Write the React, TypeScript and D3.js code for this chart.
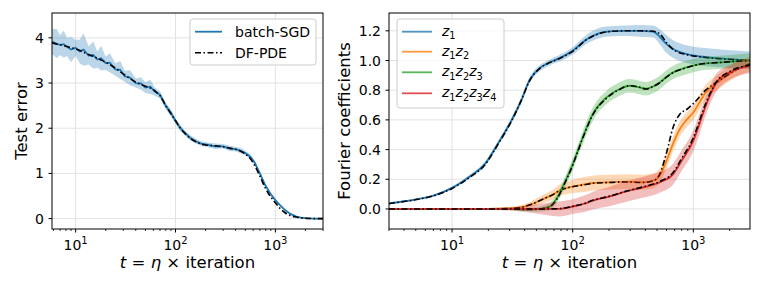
import { useEffect, useRef } from 'react';
import * as d3 from 'd3';

// ---- left panel: test error ----
const errT = [5.8, 6.5, 7, 7.6, 8.2, 9, 10, 11, 12, 13.5, 15, 16.5, 18, 20, 22, 25, 28, 31, 35, 40, 45, 50, 56, 62, 70, 80, 90, 100, 112, 125, 140, 160, 180, 200, 250, 300, 350, 400, 450, 500, 560, 620, 700, 800, 900, 1000, 1100, 1250, 1400, 1600, 1800, 2000, 2400, 3000];
const errSgd = [3.92, 3.87, 3.84, 3.86, 3.80, 3.74, 3.78, 3.70, 3.74, 3.61, 3.62, 3.52, 3.55, 3.44, 3.45, 3.30, 3.29, 3.15, 3.12, 3.00, 2.99, 2.90, 2.92, 2.81, 2.74, 2.49, 2.34, 2.16, 2.00, 1.89, 1.79, 1.71, 1.66, 1.64, 1.60, 1.60, 1.55, 1.54, 1.50, 1.45, 1.37, 1.24, 1.00, 0.72, 0.54, 0.41, 0.31, 0.19, 0.11, 0.05, 0.02, 0.01, 0.0, 0.0];
const errPde = [3.89, 3.86, 3.85, 3.83, 3.81, 3.78, 3.76, 3.72, 3.68, 3.63, 3.59, 3.55, 3.51, 3.46, 3.41, 3.33, 3.25, 3.18, 3.10, 3.02, 2.97, 2.93, 2.89, 2.83, 2.72, 2.50, 2.32, 2.17, 2.00, 1.88, 1.78, 1.70, 1.65, 1.63, 1.61, 1.59, 1.56, 1.53, 1.49, 1.43, 1.33, 1.18, 0.94, 0.66, 0.48, 0.35, 0.24, 0.13, 0.07, 0.035, 0.015, 0.008, 0.0, 0.0];
const errBand = [0.28, 0.32, 0.22, 0.30, 0.20, 0.28, 0.18, 0.26, 0.36, 0.20, 0.30, 0.18, 0.27, 0.15, 0.21, 0.14, 0.20, 0.12, 0.17, 0.10, 0.14, 0.12, 0.16, 0.09, 0.08, 0.07, 0.08, 0.06, 0.07, 0.05, 0.06, 0.05, 0.05, 0.05, 0.06, 0.05, 0.06, 0.05, 0.06, 0.05, 0.05, 0.04, 0.04, 0.03, 0.03, 0.025, 0.02, 0.015, 0.01, 0.01, 0.005, 0.005, 0.0, 0.0];

// ---- right panel: Fourier coefficients ----
const z1T = [3, 4, 5.2, 7, 10, 12, 14.4, 18.6, 24, 31, 37.4, 44, 53.6, 62, 69, 77, 100, 129, 167, 215, 278, 360, 464, 527, 600, 680, 880, 1137, 1670, 3000];
const z1Sgd = [0.038, 0.052, 0.067, 0.09, 0.142, 0.18, 0.225, 0.30, 0.44, 0.595, 0.73, 0.87, 0.95, 0.98, 0.998, 1.014, 1.065, 1.14, 1.185, 1.198, 1.2, 1.2, 1.195, 1.16, 1.11, 1.077, 1.043, 1.027, 1.014, 1.0];
const z1Pde = [0.036, 0.05, 0.065, 0.088, 0.138, 0.176, 0.22, 0.295, 0.435, 0.59, 0.73, 0.865, 0.948, 0.98, 0.995, 1.012, 1.062, 1.138, 1.182, 1.197, 1.2, 1.2, 1.197, 1.18, 1.12, 1.075, 1.04, 1.025, 1.012, 1.0];
const z1Band = [0.004, 0.005, 0.005, 0.006, 0.008, 0.01, 0.012, 0.015, 0.018, 0.02, 0.02, 0.02, 0.02, 0.02, 0.02, 0.022, 0.025, 0.03, 0.035, 0.035, 0.035, 0.04, 0.04, 0.05, 0.06, 0.06, 0.06, 0.06, 0.06, 0.06];

const z12T = [3, 10, 20, 30, 37, 45, 53, 60, 68, 78, 100, 125, 147, 200, 278, 380, 464, 527, 600, 680, 775, 880, 1000, 1267, 1670, 2300, 3000];
const z12Sgd = [0, 0, 0, 0.003, 0.01, 0.03, 0.055, 0.075, 0.095, 0.125, 0.152, 0.165, 0.175, 0.18, 0.184, 0.18, 0.19, 0.224, 0.325, 0.44, 0.54, 0.60, 0.65, 0.785, 0.865, 0.94, 0.98];
const z12Pde = [0, 0, 0, 0.003, 0.01, 0.03, 0.055, 0.075, 0.095, 0.125, 0.15, 0.163, 0.173, 0.178, 0.182, 0.178, 0.19, 0.235, 0.38, 0.55, 0.64, 0.67, 0.71, 0.80, 0.87, 0.94, 0.98];
const z12Band = [0, 0.002, 0.005, 0.01, 0.015, 0.02, 0.025, 0.03, 0.035, 0.04, 0.045, 0.05, 0.05, 0.05, 0.05, 0.05, 0.05, 0.05, 0.05, 0.05, 0.05, 0.05, 0.05, 0.05, 0.05, 0.05, 0.05];

const z123T = [3, 10, 30, 40, 50, 58, 66, 75, 85, 100, 110, 125, 147, 190, 245, 296, 350, 407, 450, 527, 600, 680, 880, 1137, 1670, 3000];
const z123Sgd = [0, 0, 0, -0.004, -0.003, 0.005, 0.022, 0.08, 0.17, 0.30, 0.39, 0.51, 0.64, 0.75, 0.808, 0.83, 0.82, 0.81, 0.82, 0.852, 0.89, 0.92, 0.953, 0.976, 0.987, 1.0];
const z123Pde = [0, 0, 0, -0.003, -0.002, 0.004, 0.02, 0.075, 0.165, 0.295, 0.385, 0.505, 0.635, 0.745, 0.805, 0.83, 0.822, 0.808, 0.82, 0.85, 0.888, 0.918, 0.952, 0.975, 0.987, 1.0];
const z123Band = [0, 0.002, 0.008, 0.012, 0.015, 0.02, 0.025, 0.03, 0.035, 0.04, 0.04, 0.045, 0.045, 0.045, 0.045, 0.045, 0.045, 0.045, 0.045, 0.045, 0.045, 0.045, 0.045, 0.045, 0.045, 0.05];

const z1234T = [3, 10, 30, 50, 60, 78, 90, 100, 125, 147, 200, 278, 380, 527, 680, 800, 1000, 1100, 1210, 1400, 1550, 2000, 3000];
const z1234Sgd = [0, 0, 0, 0, 0, 0, 0.008, 0.016, 0.035, 0.056, 0.083, 0.118, 0.145, 0.18, 0.235, 0.325, 0.46, 0.55, 0.65, 0.78, 0.85, 0.92, 0.965];
const z1234Pde = [0, 0, 0, 0, 0, 0.002, 0.01, 0.018, 0.037, 0.058, 0.085, 0.12, 0.148, 0.185, 0.245, 0.34, 0.48, 0.57, 0.67, 0.79, 0.855, 0.925, 0.97];
const z1234Band = [0, 0.002, 0.01, 0.03, 0.04, 0.05, 0.05, 0.05, 0.055, 0.06, 0.065, 0.07, 0.07, 0.07, 0.07, 0.07, 0.07, 0.07, 0.065, 0.06, 0.06, 0.05, 0.05];

const errTicks = [0, 1, 2, 3, 4];
const coefTicks = [0, 0.2, 0.4, 0.6, 0.8, 1.0, 1.2];
const decadeTicks = [1, 2, 3];

const coefSeries = [
  { sub: ['1'], color: '#1f77b4', t: z1T, sgd: z1Sgd, pde: z1Pde, band: z1Band },
  { sub: ['1', '2'], color: '#ff7f0e', t: z12T, sgd: z12Sgd, pde: z12Pde, band: z12Band },
  { sub: ['1', '2', '3'], color: '#2ca02c', t: z123T, sgd: z123Sgd, pde: z123Pde, band: z123Band },
  { sub: ['1', '2', '3', '4'], color: '#d62728', t: z1234T, sgd: z1234Sgd, pde: z1234Pde, band: z1234Band },
];

const FONT = "'DejaVu Sans', sans-serif";
const DASH = '6,2.5,1.5,2.5';

type Box = { x0: number; x1: number; y0: number; y1: number };

const App = () => {
  const ref = useRef<SVGSVGElement | null>(null);

  useEffect(() => {
    if (!ref.current) return;
    const svg = d3.select(ref.current);
    svg.selectAll('*').remove();

    const left: Box = { x0: 52, x1: 323, y0: 13, y1: 229 };
    const right: Box = { x0: 389, x1: 750, y0: 13, y1: 229 };

    const xL = d3.scaleLog().domain([5.8, 3000]).range([left.x0, left.x1]);
    const yL = d3.scaleLinear().domain([-0.23, 4.55]).range([left.y1, left.y0]);
    const xR = d3.scaleLog().domain([3, 2950]).range([right.x0, right.x1]);
    const yR = d3.scaleLinear().domain([-0.135, 1.32]).range([right.y1, right.y0]);

    const defs = svg.append('defs');
    [['clipL', left], ['clipR', right]].forEach(([id, b]: any) => {
      defs.append('clipPath').attr('id', id)
        .append('rect')
        .attr('x', b.x0).attr('y', b.y0)
        .attr('width', b.x1 - b.x0).attr('height', b.y1 - b.y0);
    });

    // grid lines under the data
    const drawGrid = (b: Box, x: d3.ScaleLogarithmic<number, number>, y: d3.ScaleLinear<number, number>, yTicks: number[]) => {
      const g = svg.append('g');
      decadeTicks.forEach(e => {
        const px = x(10 ** e);
        g.append('line').attr('x1', px).attr('x2', px).attr('y1', b.y0).attr('y2', b.y1)
          .attr('stroke', '#e2e2e2').attr('stroke-width', 1);
      });
      yTicks.forEach(v => {
        g.append('line').attr('x1', b.x0).attr('x2', b.x1).attr('y1', y(v)).attr('y2', y(v))
          .attr('stroke', '#e2e2e2').attr('stroke-width', 1);
      });
    };

    const drawAxes = (b: Box, x: d3.ScaleLogarithmic<number, number>, y: d3.ScaleLinear<number, number>,
      yTicks: number[], fmt: (v: number) => string) => {
      const g = svg.append('g').attr('font-family', FONT);
      g.append('rect').attr('x', b.x0).attr('y', b.y0)
        .attr('width', b.x1 - b.x0).attr('height', b.y1 - b.y0)
        .attr('fill', 'none').attr('stroke', '#000').attr('stroke-width', 1);
      const [d0, d1] = x.domain();
      // minor ticks
      for (let e = 0; e <= 3; e++) {
        for (let k = 2; k <= 9; k++) {
          const v = k * 10 ** e;
          if (v < d0 || v > d1) continue;
          g.append('line').attr('x1', x(v)).attr('x2', x(v)).attr('y1', b.y1).attr('y2', b.y1 + 2)
            .attr('stroke', '#000').attr('stroke-width', 0.8);
        }
      }
      decadeTicks.forEach(e => {
        const px = x(10 ** e);
        g.append('line').attr('x1', px).attr('x2', px).attr('y1', b.y1).attr('y2', b.y1 + 3.5)
          .attr('stroke', '#000').attr('stroke-width', 1);
        const t = g.append('text').attr('x', px).attr('y', 250)
          .attr('text-anchor', 'middle').attr('font-size', 14).attr('fill', '#000');
        t.append('tspan').text('10');
        t.append('tspan').attr('dy', -6).attr('font-size', 10).text(String(e));
      });
      yTicks.forEach(v => {
        g.append('line').attr('x1', b.x0 - 3.5).attr('x2', b.x0).attr('y1', y(v)).attr('y2', y(v))
          .attr('stroke', '#000').attr('stroke-width', 1);
        g.append('text').attr('x', b.x0 - 8).attr('y', y(v)).attr('dy', '0.36em')
          .attr('text-anchor', 'end').attr('font-size', 14).attr('fill', '#000').text(fmt(v));
      });
      // x label
      const xl = g.append('text').attr('x', (b.x0 + b.x1) / 2).attr('y', 268)
        .attr('text-anchor', 'middle').attr('font-size', 16.5).attr('fill', '#000');
      xl.append('tspan').attr('font-style', 'italic').text('t');
      xl.append('tspan').text(' = ');
      xl.append('tspan').attr('font-style', 'italic').text('η');
      xl.append('tspan').text(' × iteration');
    };

    drawGrid(left, xL, yL, errTicks);
    drawGrid(right, xR, yR, coefTicks);

    // ---- left data
    const gl = svg.append('g').attr('clip-path', 'url(#clipL)');
    const idxE = errT.map((_, i) => i);
    gl.append('path')
      .attr('d', d3.area<number>()
        .x(i => xL(errT[i]))
        .y0(i => yL(errSgd[i] - errBand[i]))
        .y1(i => yL(errSgd[i] + errBand[i]))(idxE))
      .attr('fill', '#1f77b4').attr('fill-opacity', 0.3);
    gl.append('path')
      .attr('d', d3.line<number>().x(i => xL(errT[i])).y(i => yL(errSgd[i]))(idxE))
      .attr('fill', 'none').attr('stroke', '#1f77b4').attr('stroke-width', 1.8);
    gl.append('path')
      .attr('d', d3.line<number>().x(i => xL(errT[i])).y(i => yL(errPde[i])).curve(d3.curveMonotoneX)(idxE))
      .attr('fill', 'none').attr('stroke', '#000').attr('stroke-width', 1.6)
      .attr('stroke-dasharray', DASH);

    // ---- right data
    const gr = svg.append('g').attr('clip-path', 'url(#clipR)');
    coefSeries.forEach(s => {
      const idx = s.t.map((_, i) => i);
      gr.append('path')
        .attr('d', d3.area<number>()
          .x(i => xR(s.t[i]))
          .y0(i => yR(s.sgd[i] - s.band[i]))
          .y1(i => yR(s.sgd[i] + s.band[i]))
          .curve(d3.curveMonotoneX)(idx))
        .attr('fill', s.color).attr('fill-opacity', 0.3);
      gr.append('path')
        .attr('d', d3.line<number>().x(i => xR(s.t[i])).y(i => yR(s.sgd[i])).curve(d3.curveMonotoneX)(idx))
        .attr('fill', 'none').attr('stroke', s.color).attr('stroke-width', 1.8);
      gr.append('path')
        .attr('d', d3.line<number>().x(i => xR(s.t[i])).y(i => yR(s.pde[i])).curve(d3.curveMonotoneX)(idx))
        .attr('fill', 'none').attr('stroke', '#000').attr('stroke-width', 1.6)
        .attr('stroke-dasharray', DASH);
    });

    drawAxes(left, xL, yL, errTicks, d => String(d));
    drawAxes(right, xR, yR, coefTicks, d => d.toFixed(1));

    // y labels
    svg.append('text').attr('transform', 'translate(27,121) rotate(-90)')
      .attr('text-anchor', 'middle').attr('font-family', FONT).attr('font-size', 16.5)
      .text('Test error');
    svg.append('text').attr('transform', 'translate(350,121) rotate(-90)')
      .attr('text-anchor', 'middle').attr('font-family', FONT).attr('font-size', 16.5)
      .text('Fourier coefficients');

    // left legend
    const lg = svg.append('g').attr('font-family', FONT);
    lg.append('rect').attr('x', 190).attr('y', 19).attr('width', 126).attr('height', 46).attr('rx', 3)
      .attr('fill', '#fff').attr('fill-opacity', 0.8).attr('stroke', '#cccccc').attr('stroke-width', 1);
    lg.append('line').attr('x1', 195).attr('x2', 222).attr('y1', 31.7).attr('y2', 31.7)
      .attr('stroke', '#1f77b4').attr('stroke-width', 1.8);
    lg.append('text').attr('x', 235).attr('y', 36.7).attr('font-size', 14).text('batch-SGD');
    lg.append('line').attr('x1', 195).attr('x2', 222).attr('y1', 52.7).attr('y2', 52.7)
      .attr('stroke', '#000').attr('stroke-width', 1.6).attr('stroke-dasharray', DASH);
    lg.append('text').attr('x', 235).attr('y', 57.7).attr('font-size', 14).text('DF-PDE');

    // right legend
    const rg = svg.append('g').attr('font-family', FONT);
    rg.append('rect').attr('x', 397).attr('y', 19).attr('width', 107).attr('height', 89).attr('rx', 3)
      .attr('fill', '#fff').attr('fill-opacity', 0.8).attr('stroke', '#cccccc').attr('stroke-width', 1);
    const rowY = [31.7, 51.7, 72.3, 93.3];
    coefSeries.forEach((s, i) => {
      rg.append('line').attr('x1', 402).attr('x2', 432).attr('y1', rowY[i]).attr('y2', rowY[i])
        .attr('stroke', s.color).attr('stroke-opacity', 0.8).attr('stroke-width', 1.8);
      const t = rg.append('text').attr('x', 442).attr('y', rowY[i] + 4).attr('font-size', 14);
      s.sub.forEach((d, j) => {
        t.append('tspan').attr('font-style', 'italic').attr('dy', j === 0 ? 0 : -3.5).text('z');
        t.append('tspan').attr('font-size', 9.8).attr('dy', 3.5).text(d);
      });
    });
  }, []);

  return (
    <svg ref={ref} width={763} height={297}
      style={{ position: 'absolute', left: 0, top: 0, background: '#fff' }} />
  );
};

export default App;
